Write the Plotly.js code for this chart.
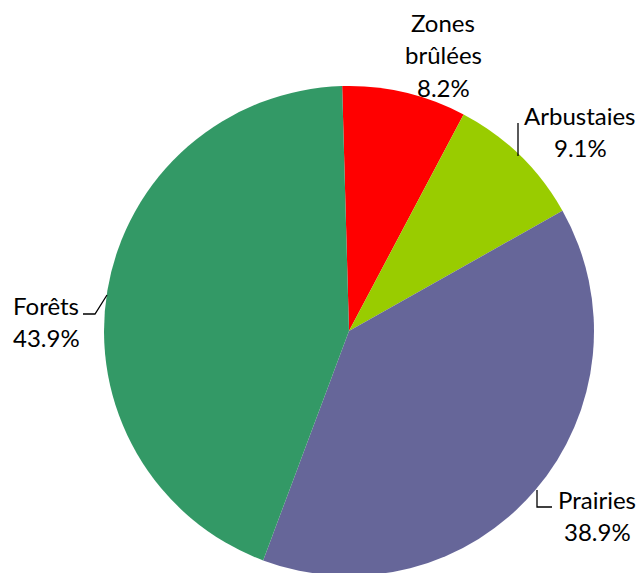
<!DOCTYPE html>
<html>
<head>
<meta charset="utf-8">
<script src="https://cdn.plot.ly/plotly-3.0.1.min.js"></script>
<style>
html,body{margin:0;padding:0;overflow:hidden;background:#fff;}
#chart{width:641px;height:600px;}
</style>
</head>
<body>
<div id="chart"></div>
<script>
const categories = ["Zones brûlées", "Arbustaies", "Prairies", "Forêts"];
const labelLines = [["Zones", "brûlées"], ["Arbustaies"], ["Prairies"], ["Forêts"]];
const shares = [8.2, 9.1, 38.9, 43.9];
const colors = ["#FF0000", "#99CC00", "#666699", "#339966"];

const W = 641, H = 600;
const M = {l: 104, r: 47, t: 86, b: 24};
const PW = W - M.l - M.r, PH = H - M.t - M.b;
const px = x => (x - M.l) / PW;
const py = y => 1 - (y - M.t) / PH;

const FONT = {family: "Lato, 'Open Sans', sans-serif", size: 24, color: "#000"};
const LH = 32.5;

// label block layout: [anchor x, first line centre y, anchor]
const labelPos = [
  [443, 22, "center"],
  [580, 115, "center"],
  [597, 499, "center"],
  [11, 305, "left"]
];

const annotations = [];
categories.forEach((c, i) => {
  const lines = labelLines[i].concat([shares[i].toFixed(1) + "%"]);
  const [cx, cy, anchor] = labelPos[i];
  lines.forEach((t, k) => {
    annotations.push({
      xref: "paper", yref: "paper",
      x: px(cx), y: py(cy + k * LH),
      text: t, showarrow: false,
      xanchor: anchor, yanchor: "middle",
      font: FONT
    });
  });
});

const leaders = [
  [[518, 123], [518, 156]],
  [[537, 490], [537, 507], [552, 507]],
  [[107, 295], [95, 314], [83, 314]]
];
const shapes = leaders.map(pts => ({
  type: "path", xref: "paper", yref: "paper",
  path: pts.map((p, j) => (j ? "L" : "M") + px(p[0]) + "," + py(p[1])).join(" "),
  line: {color: "#000", width: 1.3}
}));

Plotly.newPlot("chart", [{
  type: "pie",
  labels: categories,
  values: shares,
  sort: false,
  direction: "clockwise",
  rotation: -1.6,
  marker: {colors: colors, line: {width: 0}},
  textinfo: "none",
  hoverinfo: "label+percent",
  showlegend: false
}], {
  width: W, height: H,
  margin: M,
  paper_bgcolor: "#fff",
  showlegend: false,
  annotations: annotations,
  shapes: shapes
}, {displayModeBar: false, staticPlot: true});
</script>
</body>
</html>
